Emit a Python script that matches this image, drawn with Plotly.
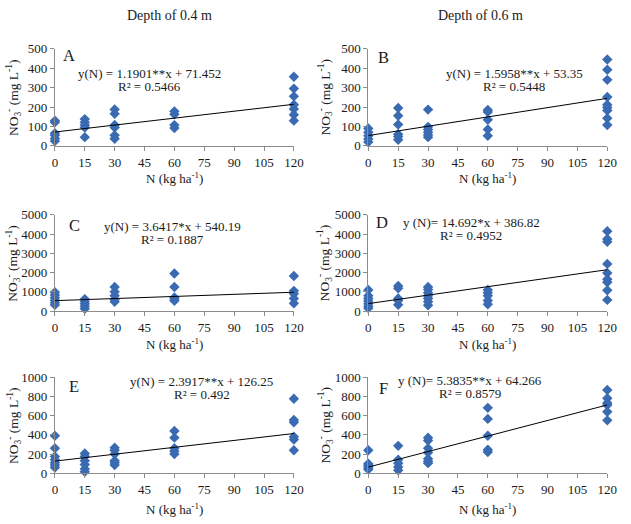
import plotly.graph_objects as go

W, H = 631, 524

# ---- data -------------------------------------------------------------
doses = [0, 15, 30, 60, 120]
x_ticks = [0, 15, 30, 45, 60, 75, 90, 105, 120]

A_vals = [[130, 122, 65, 55, 38, 25],
          [138, 122, 108, 95, 45],
          [188, 165, 108, 95, 55, 37],
          [178, 163, 107, 92],
          [356, 295, 255, 212, 190, 160, 130]]
B_vals = [[90, 70, 52, 36, 20],
          [195, 155, 110, 60, 48, 32],
          [187, 98, 85, 70, 56, 45],
          [185, 175, 135, 85, 52],
          [445, 392, 340, 252, 212, 198, 182, 142, 108]]
C_vals = [[980, 830, 690, 560, 430, 320],
          [620, 500, 380, 250, 120],
          [1250, 1000, 800, 600, 480],
          [1950, 1250, 700, 620, 530],
          [1820, 1050, 900, 650, 400]]
D_vals = [[1100, 800, 650, 520, 380, 250, 150],
          [1300, 1180, 650, 550, 330],
          [1250, 1120, 950, 800, 650, 480, 300],
          [1100, 950, 800, 550, 350],
          [4150, 3750, 3600, 2450, 1980, 1650, 1500, 1080, 580]]
E_vals = [[390, 260, 175, 140, 110, 85, 60],
          [205, 175, 130, 90, 45, 15],
          [265, 240, 200, 130, 110, 85],
          [440, 370, 260, 230, 200],
          [775, 555, 530, 380, 350, 240]]
F_vals = [[240, 100, 85, 70, 55, 40],
          [285, 140, 105, 65, 30],
          [370, 340, 260, 215, 150, 125, 105],
          [680, 565, 390, 245, 220],
          [865, 780, 730, 710, 640, 550]]

slopes = [1.1901, 1.5958, 3.6417, 14.692, 2.3917, 5.3835]
intercepts = [71.452, 53.35, 540.19, 386.82, 126.25, 64.266]
equations = ["y(N) = 1.1901**x + 71.452", "y(N) = 1.5958**x + 53.35",
             "y(N) = 3.6417*x + 540.19", "y (N)= 14.692*x + 386.82",
             "y(N) = 2.3917**x + 126.25", "y (N)= 5.3835**x + 64.266"]
r2 = ["R² = 0.5466", "R² = 0.5448", "R² = 0.1887", "R² = 0.4952",
      "R² = 0.492", "R² = 0.8579"]
letters = ["A", "B", "C", "D", "E", "F"]
y_max = [500, 500, 5000, 5000, 1000, 1000]
y_dtick = [100, 100, 1000, 1000, 200, 200]
col_titles = ["Depth of 0.4 m", "Depth of 0.6 m"]
panels = [A_vals, B_vals, C_vals, D_vals, E_vals, F_vals]

# ---- layout (pixels) ---------------------------------------------------
col_x = [(53, 297), (373, 617)]
row_y = [(43, 143), (214, 313), (381, 480)]
eq_pos = [(150, 68, 82), (522, 68, 82), (173, 226, 239),
          (478, 222, 235), (203, 386, 399), (477, 385, 398)]
let_pos = [(67, 50), (388, 52), (73, 225), (387, 222), (72, 391), (388, 393)]

def px(x):
    return x / W

def py(y):
    return 1 - y / H

FONT = "Liberation Serif"
BLUE = "#3A6BB2"
TXT = "#1a1a1a"

fig = go.Figure()
layout = dict(width=W, height=H, margin=dict(l=0, r=0, t=0, b=0),
              paper_bgcolor="white", plot_bgcolor="white", showlegend=False,
              font=dict(family=FONT, size=12, color=TXT))
annotations = []

def note(x, y, text, size, angle=0):
    annotations.append(dict(x=px(x), y=py(y), xref="paper", yref="paper",
                            xanchor="center", yanchor="middle",
                            text=text, showarrow=False, textangle=angle,
                            font=dict(family=FONT, size=size, color=TXT)))

for i, vals in enumerate(panels):
    r, c = divmod(i, 2)
    n = i + 1
    xa = "x" if n == 1 else f"x{n}"
    ya = "y" if n == 1 else f"y{n}"
    xs, ys = [], []
    for d, vs in zip(doses, vals):
        xs += [d] * len(vs)
        ys += vs
    fig.add_trace(go.Scatter(x=xs, y=ys, mode="markers", xaxis=xa, yaxis=ya,
                             cliponaxis=False,
                             marker=dict(symbol="diamond", size=8, color=BLUE)))
    lx = [0, 120]
    ly = [intercepts[i] + slopes[i] * v for v in lx]
    fig.add_trace(go.Scatter(x=lx, y=ly, mode="lines", xaxis=xa, yaxis=ya,
                             cliponaxis=False,
                             line=dict(color="black", width=1)))
    x0, x1 = col_x[c]
    y0, y1 = row_y[r]
    axis_common = dict(showgrid=False, zeroline=False, showline=True,
                       linecolor="#8c8c8c", linewidth=1, ticks="outside",
                       tickcolor="#8c8c8c", ticklen=4,
                       tickfont=dict(family=FONT, size=13, color=TXT))
    layout["xaxis" if n == 1 else f"xaxis{n}"] = dict(
        domain=[px(x0), px(x1)], anchor=ya, range=[0, 120],
        tickvals=x_ticks, **axis_common)
    layout["yaxis" if n == 1 else f"yaxis{n}"] = dict(
        domain=[py(y1), py(y0)], anchor=xa, range=[0, y_max[i]],
        dtick=y_dtick[i], **axis_common)

    ex, ey1, ey2 = eq_pos[i]
    note(ex, ey1, equations[i], 13)
    note(ex, ey2, r2[i], 13)
    lxp, lyp = let_pos[i]
    note(lxp, lyp, letters[i], 16.5)
    note((x0 + x1) / 2, [176, 347, 517][r], "N (kg ha<sup>-1</sup>)", 13)
    note([11, 329][c], (y0 + y1) / 2,
         "NO<sub>3</sub><sup>-</sup> (mg L<sup>-1</sup>)", 13.5, angle=-90)

for c, t in enumerate(col_titles):
    note([170, 488][c], 9, t, 14)

layout["annotations"] = annotations
fig.update_layout(**layout)
fig.write_html("out.html")
